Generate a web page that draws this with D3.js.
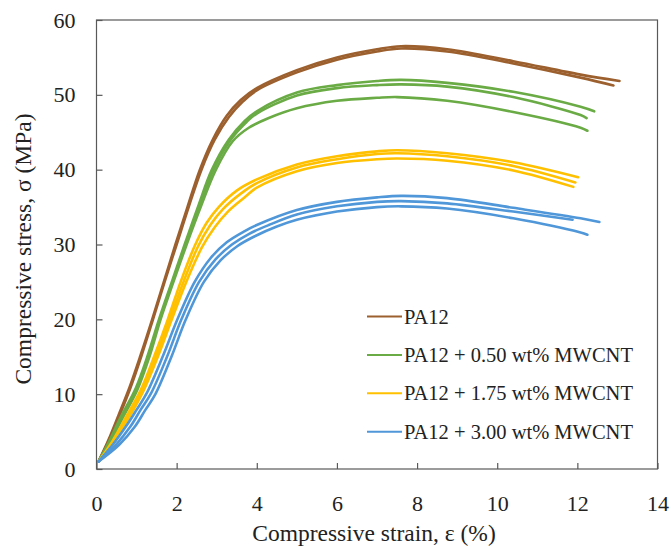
<!DOCTYPE html>
<html>
<head>
<meta charset="utf-8">
<script src="https://cdn.jsdelivr.net/npm/d3@7"></script>
<style>
  html, body { margin: 0; padding: 0; background: #fff; }
  svg { display: block; }
  svg text { font-family: "Liberation Serif", "Times New Roman", Tinos, "DejaVu Serif", serif; fill: #222; }
</style>
</head>
<body>
<svg id="chart" width="671" height="547"></svg>
<script>
// ---------- data (strain %, stress MPa) ----------
const xTicks = [0, 2, 4, 6, 8, 10, 12, 14];
const yTicks = [0, 10, 20, 30, 40, 50, 60];
const seriesNames = ["PA12", "PA12 + 0.50 wt% MWCNT", "PA12 + 1.75 wt% MWCNT", "PA12 + 3.00 wt% MWCNT"];

const pa12_a = [[0.05,1],[0.3,3.9],[0.55,7.2],[0.83,11],[1.1,15.2],[1.39,20],[1.68,25],[1.97,30],[2.27,35],[2.58,40],[2.9,44],[3.25,47.2],[3.6,49.3],[4,50.9],[5,53.3],[6,55],[7,56.1],[7.6,56.5],[8.75,56.1],[10.4,54.5],[12.08,52.7],[13.05,51.85]];
const pa12_b = [[0.05,1],[0.31,3.8],[0.57,7.1],[0.85,10.9],[1.12,15.1],[1.41,20],[1.7,25],[2.0,30],[2.3,35],[2.62,40],[2.95,44],[3.3,47],[3.65,49.1],[4,50.6],[5,53.0],[6,54.7],[7,55.8],[7.6,56.2],[8.75,55.8],[10.4,54.2],[12.08,52.3],[12.9,51.25]];

const cnt050_a = [[0.05,1],[0.3,3.5],[0.6,6.9],[0.98,10.8],[1.28,15.2],[1.56,20],[1.88,25],[2.2,30],[2.53,35],[2.88,40],[3.3,44],[3.7,46.5],[4,47.8],[5,50.3],[6,51.3],[7,51.85],[7.6,52],[8.75,51.6],[10.4,50.4],[12.08,48.4],[12.42,47.8]];
const cnt050_b = [[0.05,1],[0.31,3.4],[0.62,6.8],[1.0,10.7],[1.3,15.1],[1.58,20],[1.9,25],[2.22,30],[2.56,35],[2.92,40],[3.35,44],[3.75,46.4],[4,47.5],[5,49.9],[6,50.9],[7,51.3],[7.6,51.4],[8.75,51.1],[10.4,49.7],[12.08,47.3],[12.23,46.9]];
const cnt050_c = [[0.05,1],[0.32,3.4],[0.64,6.7],[1.02,10.6],[1.32,15],[1.6,20],[1.92,25],[2.25,30],[2.6,35],[2.98,40],[3.4,43.8],[3.8,45.6],[4.3,46.9],[5,48.2],[6,49.2],[7,49.6],[7.5,49.7],[8.75,49.2],[10.4,47.7],[12.08,45.6],[12.25,45.2]];

const cnt175_a = [[0.05,1],[0.35,3.3],[0.7,6.6],[1.1,10.5],[1.45,15.2],[1.78,20],[2.1,25],[2.45,29.8],[2.75,32.9],[3.05,35.0],[3.5,37.2],[4,38.7],[5,40.7],[6,41.8],[7,42.45],[7.5,42.6],[8.75,42.2],[10.4,41.0],[12.02,39.0]];
const cnt175_b = [[0.05,1],[0.37,3.2],[0.73,6.5],[1.13,10.4],[1.49,15.1],[1.83,20],[2.17,25],[2.53,29.7],[2.84,32.6],[3.15,34.7],[3.6,36.8],[4,38.2],[5,40.3],[6,41.4],[7,42.1],[7.5,42.2],[8.75,41.8],[10.4,40.5],[11.95,38.3]];
const cnt175_c = [[0.05,1],[0.39,3.1],[0.76,6.4],[1.16,10.3],[1.53,15],[1.88,20],[2.24,25],[2.63,29.6],[2.95,32.3],[3.28,34.4],[3.72,36.4],[4,37.6],[5,39.8],[6,40.9],[7,41.4],[7.5,41.5],[8.75,41.2],[10.4,39.9],[11.9,37.7]];

const cnt300_a = [[0.05,1],[0.4,3.2],[0.75,5.8],[1.0,7.9],[1.25,10.1],[1.65,15],[2.02,20],[2.45,25],[2.85,28.2],[3.25,30.3],[3.7,31.8],[4,32.6],[5,34.6],[6,35.7],[7,36.3],[7.6,36.5],[8.75,36.2],[10.4,34.9],[12.08,33.5],[12.55,33.0]];
const cnt300_b = [[0.05,1],[0.48,3.2],[0.85,5.7],[1.1,7.9],[1.36,10.1],[1.76,15],[2.12,20],[2.56,25],[2.97,28.0],[3.38,30.0],[3.8,31.4],[4.3,32.6],[5,34.0],[6,35.1],[7,35.7],[7.6,35.8],[8.75,35.5],[10.4,34.4],[11.88,33.3]];
const cnt300_c = [[0.05,1],[0.56,3.2],[0.95,5.6],[1.22,7.9],[1.47,10],[1.87,15],[2.23,20],[2.68,25],[3.1,27.9],[3.52,29.8],[3.95,31.1],[4.5,32.4],[5,33.3],[6,34.4],[7,35.0],[7.6,35.1],[8.75,34.8],[10.4,33.5],[12.08,31.6],[12.25,31.3]];

const seriesCurves = [
  [pa12_a, pa12_b],
  [cnt050_a, cnt050_b, cnt050_c],
  [cnt175_a, cnt175_b, cnt175_c],
  [cnt300_a, cnt300_b, cnt300_c]
];

// ---------- styles ----------
const colors = ["#9C5F2E", "#6AAB45", "#FFC000", "#4F97D8"];

const svg = d3.select("#chart");
const mLeft = 96.5, mRight = 657.5, mTop = 20, mBottom = 469;

const x = d3.scaleLinear().domain([0, 14]).range([mLeft, mRight]);
const y = d3.scaleLinear().domain([0, 60]).range([mBottom, mTop]);

// curves
const line = d3.line().x(d => x(d[0])).y(d => y(d[1])).curve(d3.curveCatmullRom.alpha(0.5));
const g = svg.append("g");
seriesCurves.forEach((reps, i) => {
  reps.forEach(r => {
    g.append("path").attr("d", line(r)).attr("fill", "none")
      .attr("stroke", colors[i]).attr("stroke-width", 2.6)
      .attr("stroke-linecap", "round").attr("stroke-linejoin", "round");
  });
});

// frame
svg.append("rect").attr("x", mLeft).attr("y", mTop)
  .attr("width", mRight - mLeft).attr("height", mBottom - mTop)
  .attr("fill", "none").attr("stroke", "#595959").attr("stroke-width", 1.2);

// axes
const xAxis = d3.axisBottom(x).tickValues(xTicks).tickSizeInner(-6).tickSizeOuter(0).tickPadding(26);
const yAxis = d3.axisLeft(y).tickValues(yTicks).tickSizeInner(-6).tickSizeOuter(0).tickPadding(21);
const gx = svg.append("g").attr("transform", `translate(0,${mBottom})`).call(xAxis);
const gy = svg.append("g").attr("transform", `translate(${mLeft},0)`).call(yAxis);
[gx, gy].forEach(a => {
  a.attr("font-family", null);
  a.select(".domain").remove();
  a.selectAll(".tick line").attr("stroke", "#595959").attr("stroke-width", 1.2);
  a.selectAll(".tick text").style("font-size", "22px").attr("fill", "#222");
});

// axis titles
svg.append("text").attr("x", 374).attr("y", 541).attr("text-anchor", "middle")
  .style("font-size", "23.5px").text("Compressive strain, ε (%)");
svg.append("text").attr("transform", `translate(31,249) rotate(-90)`)
  .attr("text-anchor", "middle").style("font-size", "23.5px").text("Compressive stress, σ (MPa)");

// legend
const legY = [316.5, 355, 393.3, 431.7];
seriesNames.forEach((name, i) => {
  svg.append("line").attr("x1", 367).attr("x2", 402).attr("y1", legY[i]).attr("y2", legY[i])
    .attr("stroke", colors[i]).attr("stroke-width", 2);
  svg.append("text").attr("x", 404).attr("y", legY[i] + 7).style("font-size", "20.5px").text(name);
});
</script>
</body>
</html>
